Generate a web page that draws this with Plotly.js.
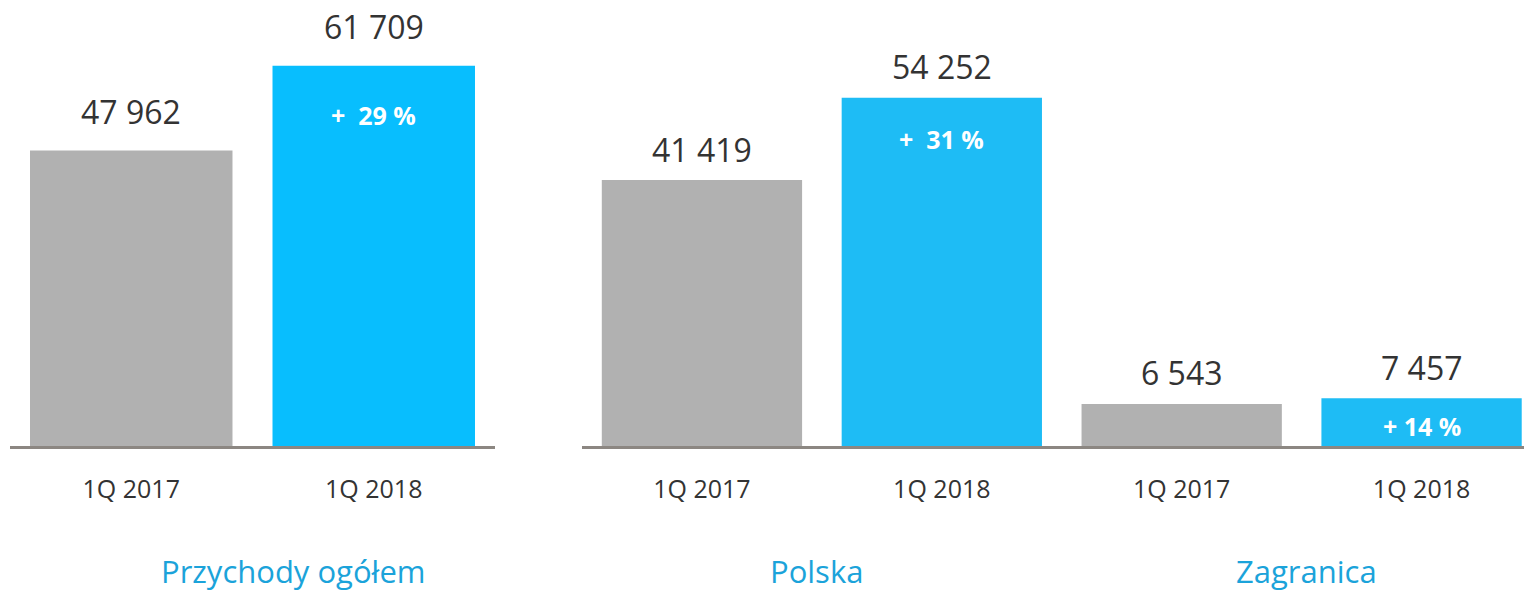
<!DOCTYPE html>
<html><head><meta charset="utf-8">
<script src="https://cdn.plot.ly/plotly-3.0.1.min.js"></script>
<style>html,body{margin:0;padding:0;background:#fff}#chart{width:1524px;height:593px}</style>
</head><body><div id="chart"></div>
<script>
// Left panel: Przychody ogółem
const totalCategories = ["1Q 2017", "1Q 2018"];
const totalValues = [47962, 61709];
const totalGrowth = ["+  29 %"];
// Right panel: Polska, Zagranica
const segmentCategories = ["1Q 2017", "1Q 2018", "1Q 2017", "1Q 2018"];
const polskaValues = [41419, 54252];
const zagranicaValues = [6543, 7457];
const segmentGrowth = ["+  31 %", "+ 14 %"];
const groupTitles = ["Przychody ogółem", "Polska", "Zagranica"];

const GREY = "#B1B1B1", BLUE1 = "#08BEFE", BLUE2 = "#1EBCF5";
const FONT = "Open Sans";
const fmt = v => String(v).replace(/\B(?=(\d{3})+(?!\d))/g, " ");

const segmentValues = polskaValues.concat(zagranicaValues);
const idx1 = totalValues.map((_, i) => i);
const idx2 = segmentValues.map((_, i) => i);

const traces = [
  {type: "bar", x: idx1, y: totalValues, xaxis: "x", yaxis: "y",
   marker: {color: [GREY, BLUE1]}, hoverinfo: "none"},
  {type: "bar", x: idx2, y: segmentValues, xaxis: "x2", yaxis: "y2",
   marker: {color: [GREY, BLUE2, GREY, BLUE2]}, hoverinfo: "none"}
];

const ann = [];
totalValues.forEach((v, i) => ann.push({xref: "x", yref: "y", x: i, y: v, text: fmt(v),
  showarrow: false, yanchor: "middle", yshift: 39, font: {family: FONT, size: 32, color: "#333333"}}));
segmentValues.forEach((v, i) => ann.push({xref: "x2", yref: "y2", x: i, y: v, text: fmt(v),
  showarrow: false, yanchor: "middle", yshift: 31, font: {family: FONT, size: 32, color: "#333333"}}));
// growth labels
ann.push({xref: "x", yref: "y", x: 1, y: totalValues[1], text: "<b>" + totalGrowth[0] + "</b>",
  showarrow: false, yanchor: "middle", yshift: -49, font: {family: FONT, size: 25, color: "#fff"}});
ann.push({xref: "x2", yref: "y2", x: 1, y: polskaValues[1], text: "<b>" + segmentGrowth[0] + "</b>",
  showarrow: false, yanchor: "middle", yshift: -41, font: {family: FONT, size: 25, color: "#fff"}});
ann.push({xref: "x2", yref: "y2", x: 3, y: zagranicaValues[1] / 2, text: "<b>" + segmentGrowth[1] + "</b>",
  showarrow: false, yanchor: "middle", yshift: -4, font: {family: FONT, size: 25, color: "#fff"}});
// group titles
const titleX = [293, 816, 1306];
groupTitles.forEach((t, i) => ann.push({xref: "paper", yref: "paper", x: titleX[i] / 1524, y: (593 - 571) / 593,
  text: t, showarrow: false, xanchor: "center", yanchor: "middle", borderpad: 0,
  font: {family: FONT, size: 31, color: "#1BA3DA"}}));

const axisCommon = {showline: true, linecolor: "#8C8782", linewidth: 2.5, showgrid: false, zeroline: false,
  ticks: "", ticklabelstandoff: 19, tickfont: {family: FONT, size: 25, color: "#333333"}, fixedrange: true};

const layout = {
  width: 1524, height: 593, margin: {l: 0, r: 0, t: 0, b: 0},
  paper_bgcolor: "#fff", plot_bgcolor: "#fff", showlegend: false, bargap: 0.165,
  font: {family: FONT},
  xaxis: Object.assign({}, axisCommon, {domain: [10 / 1524, 495 / 1524], range: [-0.5, 1.5],
    tickvals: idx1, ticktext: totalCategories, anchor: "y"}),
  xaxis2: Object.assign({}, axisCommon, {domain: [582 / 1524, 1], range: [-0.5, 3.427],
    tickvals: idx2, ticktext: segmentCategories, anchor: "y2"}),
  yaxis: {domain: [147 / 593, 1], range: [0, 72400], visible: false, fixedrange: true},
  yaxis2: {domain: [147 / 593, 1], range: [0, 69470], visible: false, fixedrange: true, anchor: "x2"},
  annotations: ann
};
Plotly.newPlot("chart", traces, layout, {staticPlot: true, displayModeBar: false});
</script></body></html>
